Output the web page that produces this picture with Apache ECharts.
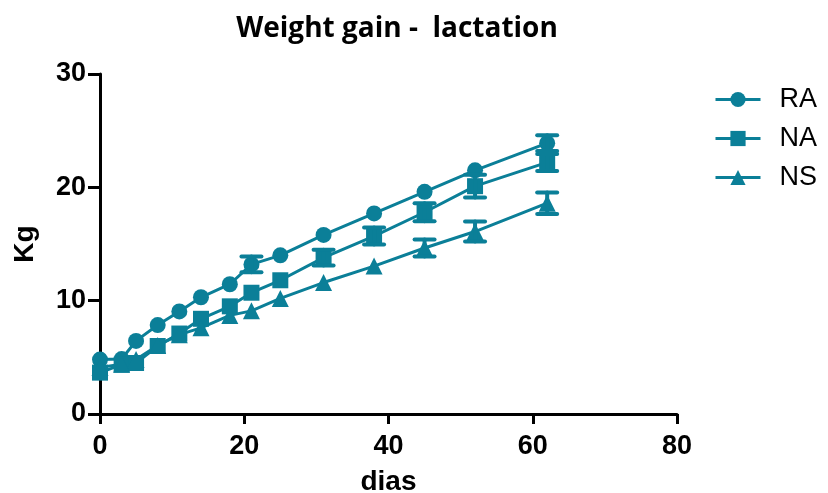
<!DOCTYPE html>
<html>
<head>
<meta charset="utf-8">
<script src="https://cdn.jsdelivr.net/npm/echarts@6/dist/echarts.min.js"></script>
<style>html,body{margin:0;padding:0;background:#fff}#c{width:828px;height:493px}</style>
</head>
<body>
<div id="c"></div>
<script>
const days = [0, 3, 5, 8, 11, 14, 18, 21, 25, 31, 38, 45, 52, 62];
const RA = [4.8, 4.85, 6.45, 7.85, 9.05, 10.3, 11.45, 13.2, 14.0, 15.8, 17.7, 19.6, 21.5, 23.9];
const NA = [3.65, 4.35, 4.5, 6.0, 7.1, 8.4, 9.5, 10.7, 11.8, 13.8, 15.7, 17.8, 20.1, 22.2];
const NS = [4.1, 4.4, 4.8, 6.05, 7.0, 7.6, 8.7, 9.1, 10.2, 11.6, 13.05, 14.65, 16.1, 18.6];
const RA_err = [0, 0, 0, 0, 0, 0, 0, 0.7, 0, 0, 0, 0, 0, 0.7];
const NA_err = [0, 0, 0, 0, 0, 0, 0, 0, 0, 0.7, 0.75, 0.8, 1.0, 0.75];
const NS_err = [0, 0, 0, 0, 0, 0, 0, 0, 0, 0, 0, 0.75, 0.88, 0.95];
const seriesNames = ['RA', 'NA', 'NS'];
const xTicks = [0, 20, 40, 60, 80];
const yTicks = [0, 10, 20, 30];

const color = '#0b7f98';
const symbols = ['circle', 'rect', 'triangle'];
const vals = [RA, NA, NS];
const errs = [RA_err, NA_err, NS_err];

const series = [];
seriesNames.forEach((name, i) => {
  series.push({
    name: name,
    type: 'line',
    data: days.map((d, j) => [d, vals[i][j]]),
    symbol: symbols[i],
    symbolSize: i === 2 ? 17 : 16,
    showAllSymbol: true,
    lineStyle: { color: color, width: 3 },
    itemStyle: { color: color },
    z: 3
  });
  series.push({
    name: name + '_err',
    type: 'custom',
    data: days.map((d, j) => [d, vals[i][j] - errs[i][j], vals[i][j] + errs[i][j], errs[i][j]]),
    renderItem: function (params, api) {
      if (api.value(3) <= 0) return;
      const x = api.value(0);
      const lo = api.coord([x, api.value(1)]);
      const hi = api.coord([x, api.value(2)]);
      const hw = 10;
      const st = { stroke: color, lineWidth: 4, lineCap: 'round' };
      return {
        type: 'group',
        children: [
          { type: 'line', shape: { x1: lo[0], y1: lo[1], x2: hi[0], y2: hi[1] }, style: st },
          { type: 'line', shape: { x1: lo[0] - hw, y1: lo[1], x2: lo[0] + hw, y2: lo[1] }, style: st },
          { type: 'line', shape: { x1: hi[0] - hw, y1: hi[1], x2: hi[0] + hw, y2: hi[1] }, style: st }
        ]
      };
    },
    z: 4
  });
});

const chart = echarts.init(document.getElementById('c'));
chart.setOption({
  animation: false,
  backgroundColor: '#fff',
  title: {
    text: 'Weight gain -  lactation',
    left: 392, textAlign: 'center', top: 10,
    textStyle: { fontFamily: 'Open Sans', fontWeight: 'bold', fontSize: 28, color: '#000' }
  },
  legend: {
    data: seriesNames,
    orient: 'vertical',
    left: 709, top: 81,
    itemWidth: 45, itemHeight: 19, itemGap: 12,
    lineStyle: { width: 3 },
    textStyle: { fontFamily: 'Liberation Sans', fontSize: 27, color: '#000', lineHeight: 27, padding: [0, 0, 0, 14] }
  },
  grid: { left: 100, right: 151, top: 74, bottom: 79, outerBoundsMode: 'none', containLabel: false },
  xAxis: {
    type: 'value', min: xTicks[0], max: xTicks[xTicks.length - 1], interval: 20,
    name: 'dias', nameLocation: 'middle', nameGap: 54,
    nameTextStyle: { fontFamily: 'Liberation Sans', fontWeight: 'bold', fontSize: 28, color: '#000' },
    axisLine: { lineStyle: { color: '#000', width: 3 } },
    axisTick: { length: 10, lineStyle: { color: '#000', width: 3 } },
    axisLabel: { fontFamily: 'Liberation Sans', fontWeight: 'bold', fontSize: 27, color: '#000', margin: 19 },
    splitLine: { show: false }
  },
  yAxis: {
    type: 'value', min: yTicks[0], max: yTicks[yTicks.length - 1], interval: 10,
    name: 'Kg', nameLocation: 'middle', nameGap: 61,
    nameTextStyle: { fontFamily: 'Liberation Sans', fontWeight: 'bold', fontSize: 28, color: '#000' },
    axisLine: { show: true, lineStyle: { color: '#000', width: 3 } },
    axisTick: { show: true, length: 12, lineStyle: { color: '#000', width: 3 } },
    axisLabel: { fontFamily: 'Liberation Sans', fontWeight: 'bold', fontSize: 27, color: '#000', margin: 14 },
    splitLine: { show: false }
  },
  series: series
});
</script>
</body>
</html>
